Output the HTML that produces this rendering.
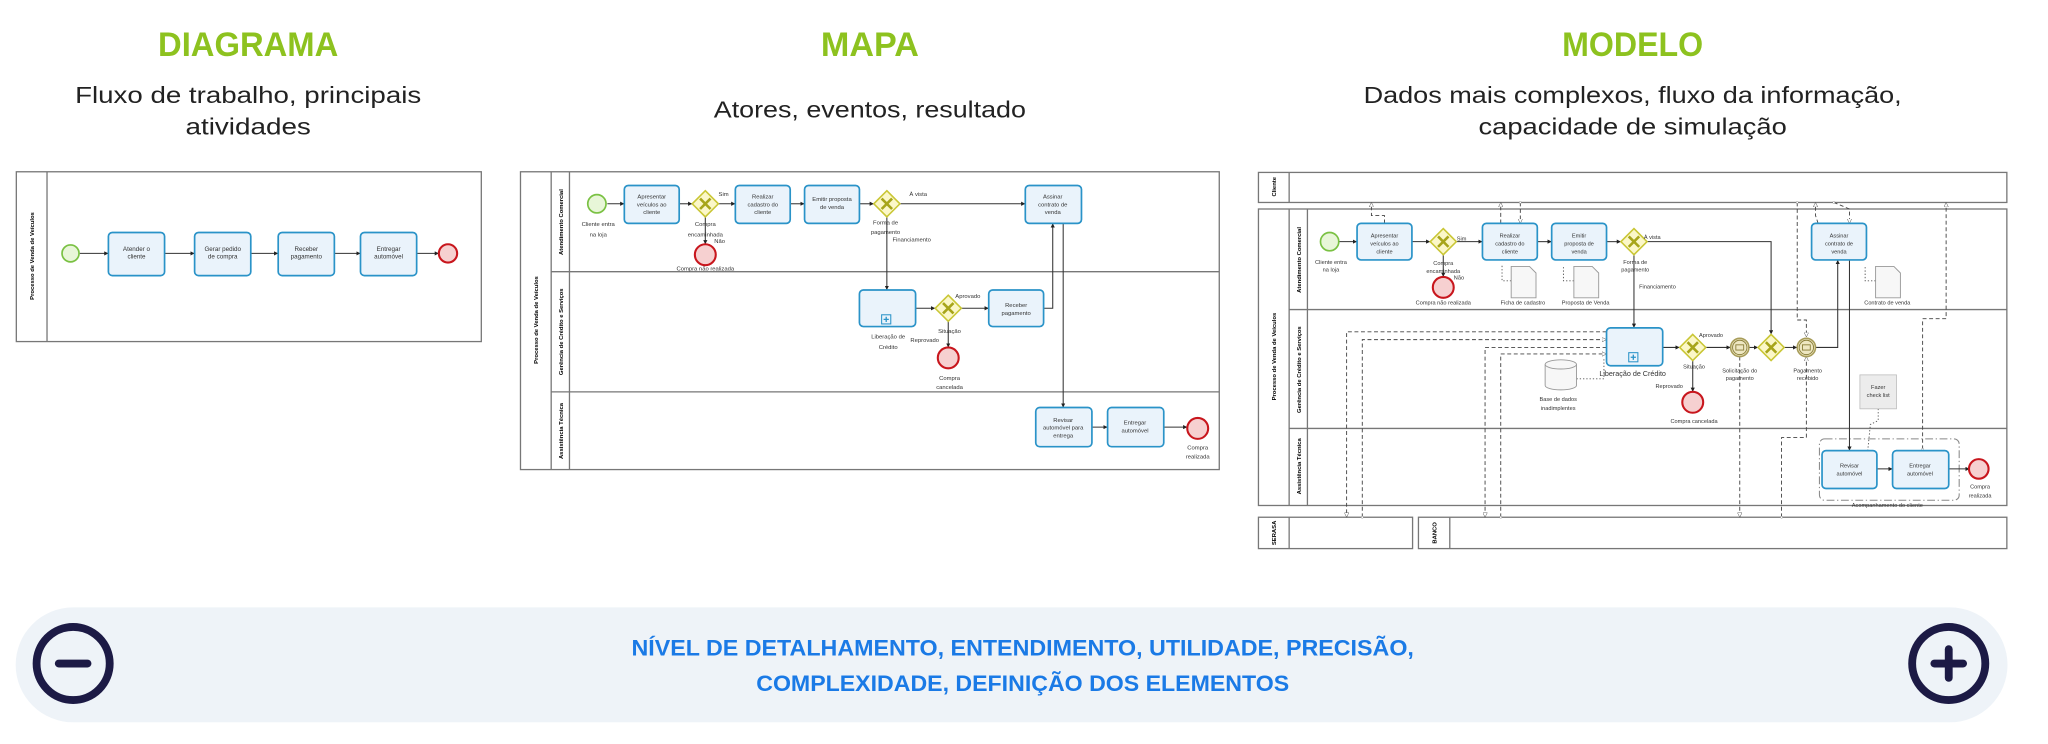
<!DOCTYPE html>
<html><head><meta charset="utf-8"><style>
html,body{margin:0;padding:0;background:#fff;}
svg{display:block;}
text{font-family:"Liberation Sans",sans-serif;}
</style></head><body>
<svg width="2048" height="744" viewBox="0 0 1568 569.6" xmlns="http://www.w3.org/2000/svg">
<defs>
<marker id="a" viewBox="0 0 10 10" refX="10" refY="5" markerWidth="4" markerHeight="4" orient="auto"><path d="M0,0L10,5L0,10z" fill="#222"/></marker>
<marker id="h" viewBox="0 0 10 10" refX="10" refY="5" markerWidth="5" markerHeight="5" orient="auto"><path d="M0,0L10,5L0,10z" fill="#fff" stroke="#444"/></marker>
<marker id="o" viewBox="0 0 10 10" refX="5" refY="5" markerWidth="3" markerHeight="3"><circle cx="5" cy="5" r="4" fill="#fff" stroke="#444"/></marker>
</defs>

<!-- Titles -->
<g font-weight="bold" fill="#8dc21f" font-size="26" text-anchor="middle">
<text x="190" y="43" textLength="138" lengthAdjust="spacingAndGlyphs">DIAGRAMA</text>
<text x="666" y="43" textLength="75" lengthAdjust="spacingAndGlyphs">MAPA</text>
<text x="1250" y="43" textLength="108" lengthAdjust="spacingAndGlyphs">MODELO</text>
</g>
<g fill="#222" font-size="18" text-anchor="middle">
<text x="190" y="79" textLength="265" lengthAdjust="spacingAndGlyphs">Fluxo de trabalho, principais</text>
<text x="190" y="103" textLength="96" lengthAdjust="spacingAndGlyphs">atividades</text>
<text x="666" y="90" textLength="239" lengthAdjust="spacingAndGlyphs">Atores, eventos, resultado</text>
<text x="1250" y="79" textLength="412" lengthAdjust="spacingAndGlyphs">Dados mais complexos, fluxo da informação,</text>
<text x="1250" y="103" textLength="236" lengthAdjust="spacingAndGlyphs">capacidade de simulação</text>
</g>

<!-- Diagram 1 -->
<g stroke="#777" fill="none" stroke-width="1">
<rect x="12.5" y="131.5" width="356" height="130" fill="#fff"/>
<line x1="36" y1="131.5" x2="36" y2="261.5"/>
</g>
<text transform="translate(26,196) rotate(-90)" font-size="4.5" font-weight="bold" text-anchor="middle">Processo de Venda de Veículos</text>
<g stroke="#333" stroke-width="0.8" marker-end="url(#a)">
<line x1="61" y1="194" x2="83" y2="194"/><line x1="126" y1="194" x2="149" y2="194"/>
<line x1="192" y1="194" x2="213" y2="194"/><line x1="256" y1="194" x2="276" y2="194"/>
<line x1="319" y1="194" x2="336" y2="194"/>
</g>
<circle cx="54" cy="194" r="6.5" fill="#e8f6d8" stroke="#7ac143" stroke-width="1.3"/>
<circle cx="343" cy="194" r="7" fill="#f6d0d0" stroke="#c8161d" stroke-width="1.6"/>
<g fill="#eaf3fb" stroke="#2a93c8" stroke-width="1.3">
<rect x="83" y="178" width="43" height="33" rx="3"/><rect x="149" y="178" width="43" height="33" rx="3"/>
<rect x="213" y="178" width="43" height="33" rx="3"/><rect x="276" y="178" width="43" height="33" rx="3"/>
</g>
<g font-size="4.8" text-anchor="middle" fill="#333">
<text x="104.5" y="192">Atender o</text><text x="104.5" y="198">cliente</text>
<text x="170.5" y="192">Gerar pedido</text><text x="170.5" y="198">de compra</text>
<text x="234.5" y="192">Receber</text><text x="234.5" y="198">pagamento</text>
<text x="297.5" y="192">Entregar</text><text x="297.5" y="198">automóvel</text>
</g>

<!-- Diagram 2 -->
<g stroke="#777" fill="#fff" stroke-width="1">
<rect x="398.5" y="131.5" width="535" height="228"/>
</g>
<g stroke="#777" stroke-width="1">
<line x1="422" y1="131.5" x2="422" y2="359.5"/><line x1="436" y1="131.5" x2="436" y2="359.5"/>
<line x1="422" y1="208" x2="933.5" y2="208"/><line x1="422" y1="300" x2="933.5" y2="300"/>
</g>
<g font-size="4.5" font-weight="bold" text-anchor="middle">
<text transform="translate(412,245) rotate(-90)">Processo de Venda de Veículos</text>
<text transform="translate(431,170) rotate(-90)">Atendimento Comercial</text>
<text transform="translate(431,254) rotate(-90)">Gerência de Crédito e Serviços</text>
<text transform="translate(431,330) rotate(-90)">Assistência Técnica</text>
</g>
<g stroke="#333" stroke-width="0.8" fill="none" marker-end="url(#a)">
<line x1="465" y1="156" x2="478" y2="156"/><line x1="520" y1="156" x2="530" y2="156"/>
<line x1="550" y1="156" x2="563" y2="156"/><line x1="605" y1="156" x2="616" y2="156"/>
<line x1="658" y1="156" x2="669" y2="156"/><line x1="689" y1="156" x2="785" y2="156"/>
<line x1="540" y1="166" x2="540" y2="187"/><line x1="679" y1="166" x2="679" y2="222"/>
<line x1="701" y1="236" x2="716" y2="236"/><line x1="736" y1="236" x2="757" y2="236"/>
<line x1="726" y1="246" x2="726" y2="266"/>
<polyline points="799,236 806,236 806,171"/>
<line x1="814" y1="171" x2="814" y2="312"/>
<line x1="836" y1="327" x2="848" y2="327"/><line x1="891" y1="327" x2="909" y2="327"/>
</g>
<circle cx="457" cy="156" r="7" fill="#e8f6d8" stroke="#7ac143" stroke-width="1.3"/>
<circle cx="540" cy="195" r="8" fill="#f6d0d0" stroke="#c8161d" stroke-width="1.6"/>
<circle cx="726" cy="274" r="8" fill="#f6d0d0" stroke="#c8161d" stroke-width="1.6"/>
<circle cx="917" cy="328" r="8" fill="#f6d0d0" stroke="#c8161d" stroke-width="1.6"/>
<g fill="#fbf7c8" stroke="#c9c635" stroke-width="1.2">
<path d="M540,146L550,156L540,166L530,156z"/><path d="M679,146L689,156L679,166L669,156z"/>
<path d="M726,226L736,236L726,246L716,236z"/>
</g>
<g stroke="#a7a51a" stroke-width="2"><path d="M536,152l8,8M544,152l-8,8M675,152l8,8M683,152l-8,8M722,232l8,8M730,232l-8,8"/></g>
<g fill="#eaf3fb" stroke="#2a93c8" stroke-width="1.3">
<rect x="478" y="142" width="42" height="29" rx="3"/><rect x="563" y="142" width="42" height="29" rx="3"/>
<rect x="616" y="142" width="42" height="29" rx="3"/><rect x="785" y="142" width="43" height="29" rx="3"/>
<rect x="658" y="222" width="43" height="28" rx="3"/><rect x="757" y="222" width="42" height="28" rx="3"/>
<rect x="793" y="312" width="43" height="30" rx="3"/><rect x="848" y="312" width="43" height="30" rx="3"/>
</g>
<rect x="675" y="241" width="7" height="7" fill="#eaf3fb" stroke="#2a93c8" stroke-width="0.8"/>
<path d="M678.5,242.5v4M676.5,244.5h4" stroke="#2a93c8" stroke-width="1"/>
<g font-size="4.5" text-anchor="middle" fill="#333">
<text x="499" y="152">Apresentar</text><text x="499" y="158">veículos ao</text><text x="499" y="164">cliente</text>
<text x="584" y="152">Realizar</text><text x="584" y="158">cadastro do</text><text x="584" y="164">cliente</text>
<text x="637" y="154">Emitir proposta</text><text x="637" y="160">de venda</text>
<text x="806" y="152">Assinar</text><text x="806" y="158">contrato de</text><text x="806" y="164">venda</text>
<text x="778" y="235">Receber</text><text x="778" y="241">pagamento</text>
<text x="814" y="323">Revisar</text><text x="814" y="329">automóvel para</text><text x="814" y="335">entrega</text>
<text x="869" y="325">Entregar</text><text x="869" y="331">automóvel</text>
<text x="458" y="173">Cliente entra</text><text x="458" y="181">na loja</text>
<text x="540" y="173">Compra</text><text x="540" y="181">encaminhada</text>
<text x="554" y="150">Sim</text><text x="551" y="186">Não</text>
<text x="540" y="207">Compra não realizada</text>
<text x="678" y="172">Forma de</text><text x="678" y="179">pagamento</text>
<text x="703" y="150">À vista</text><text x="698" y="185">Financiamento</text>
<text x="680" y="259">Liberação de</text><text x="680" y="267">Crédito</text>
<text x="741" y="228">Aprovado</text><text x="727" y="255">Situação</text><text x="708" y="262">Reprovado</text>
<text x="727" y="291">Compra</text><text x="727" y="298">cancelada</text>
<text x="917" y="344">Compra</text><text x="917" y="351">realizada</text>
</g>

<!-- Diagram 3 -->
<g stroke="#777" fill="#fff" stroke-width="1">
<rect x="963.5" y="132" width="573" height="23"/>
<rect x="963.5" y="160" width="573" height="227"/>
<rect x="963.5" y="396" width="118" height="24"/>
<rect x="1086" y="396" width="450.5" height="24"/>
</g>
<g stroke="#777" stroke-width="1">
<line x1="987" y1="132" x2="987" y2="155"/><line x1="987" y1="160" x2="987" y2="387"/>
<line x1="1001" y1="160" x2="1001" y2="387"/><line x1="987" y1="237" x2="1536.5" y2="237"/>
<line x1="987" y1="328" x2="1536.5" y2="328"/><line x1="987" y1="396" x2="987" y2="420"/>
<line x1="1110" y1="396" x2="1110" y2="420"/>
</g>
<g font-size="4.5" font-weight="bold" text-anchor="middle">
<text transform="translate(977,143) rotate(-90)">Cliente</text>
<text transform="translate(977,273) rotate(-90)">Processo de Venda de Veículos</text>
<text transform="translate(996,199) rotate(-90)">Atendimento Comercial</text>
<text transform="translate(996,283) rotate(-90)">Gerência de Crédito e Serviços</text>
<text transform="translate(996,357) rotate(-90)">Assistência Técnica</text>
<text transform="translate(977,408) rotate(-90)">SERASA</text>
<text transform="translate(1100,408) rotate(-90)">BANCO</text>
</g>
<!-- dashed message flows -->
<g stroke="#444" stroke-width="0.7" fill="none" stroke-dasharray="3,2">
<polyline points="1230,254 1031,254 1031,396" marker-end="url(#h)"/>
<polyline points="1043,396 1043,260 1230,260" marker-end="url(#h)" marker-start="url(#o)"/>
<polyline points="1230,266 1137,266 1137,396" marker-end="url(#h)"/>
<polyline points="1149,396 1149,271 1230,271" marker-end="url(#h)" marker-start="url(#o)"/>
<polyline points="1332,273 1332,396" marker-end="url(#h)"/>
<polyline points="1364,396 1364,335 1383,335 1383,273" marker-end="url(#h)" marker-start="url(#o)"/>
<polyline points="1060,171 1060,165 1050,165 1050,155" marker-end="url(#h)"/>
<polyline points="1149,171 1149,155" marker-end="url(#h)"/>
<polyline points="1164,155 1164,171" marker-end="url(#h)" marker-start="url(#o)"/>
<polyline points="1376,155 1376,245 1383,245 1383,258" marker-end="url(#h)" marker-start="url(#o)"/>
<polyline points="1392,171 1390,165 1390,155" marker-end="url(#h)"/>
<polyline points="1404,155 1416,160 1416,171" marker-end="url(#h)" marker-start="url(#o)"/>
<polyline points="1472,344 1472,244 1490,244 1490,155" marker-end="url(#h)" marker-start="url(#o)"/>
</g>
<g stroke="#555" stroke-width="0.7" fill="none" stroke-dasharray="1,1.5">
<polyline points="1157,215 1150,215 1150,203"/><polyline points="1205,215 1197,215 1197,203"/>
<polyline points="1436,215 1428,215 1428,203"/><polyline points="1207,290 1228,290 1228,275"/>
<polyline points="1438,313 1438,322 1432,325 1430,345"/>
</g>
<rect x="1393" y="336" width="107" height="47" rx="4" fill="none" stroke="#888" stroke-width="0.8" stroke-dasharray="6,2,1,2"/>
<g stroke="#333" stroke-width="0.8" fill="none" marker-end="url(#a)">
<line x1="1025" y1="185" x2="1039" y2="185"/><line x1="1081" y1="185" x2="1095" y2="185"/>
<line x1="1115" y1="185" x2="1135" y2="185"/><line x1="1177" y1="185" x2="1188" y2="185"/>
<line x1="1230" y1="185" x2="1241" y2="185"/>
<polyline points="1261,185 1356,185 1356,256"/>
<line x1="1105" y1="195" x2="1105" y2="212"/><line x1="1251" y1="195" x2="1251" y2="251"/>
<line x1="1273" y1="266" x2="1286" y2="266"/><line x1="1306" y1="266" x2="1325" y2="266"/>
<line x1="1339" y1="266" x2="1346" y2="266"/><line x1="1366" y1="266" x2="1376" y2="266"/>
<polyline points="1390,266 1407,266 1407,199"/>
<line x1="1296" y1="276" x2="1296" y2="300"/>
<line x1="1416" y1="199" x2="1416" y2="345"/>
<line x1="1437" y1="359" x2="1449" y2="359"/><line x1="1492" y1="359" x2="1508" y2="359"/>
</g>
<circle cx="1018" cy="185" r="7" fill="#e8f6d8" stroke="#7ac143" stroke-width="1.3"/>
<circle cx="1105" cy="220" r="8" fill="#f6d0d0" stroke="#c8161d" stroke-width="1.6"/>
<circle cx="1296" cy="308" r="8" fill="#f6d0d0" stroke="#c8161d" stroke-width="1.6"/>
<circle cx="1515" cy="359" r="7.5" fill="#f6d0d0" stroke="#c8161d" stroke-width="1.6"/>
<g fill="#fbf7c8" stroke="#c9c635" stroke-width="1.2">
<path d="M1105,175L1115,185L1105,195L1095,185z"/><path d="M1251,175L1261,185L1251,195L1241,185z"/>
<path d="M1296,256L1306,266L1296,276L1286,266z"/><path d="M1356,256L1366,266L1356,276L1346,266z"/>
</g>
<g stroke="#a7a51a" stroke-width="2"><path d="M1101,181l8,8M1109,181l-8,8M1247,181l8,8M1255,181l-8,8M1292,262l8,8M1300,262l-8,8M1352,262l8,8M1360,262l-8,8"/></g>
<g fill="#eee7c2" stroke="#a89d5a" stroke-width="1.2">
<circle cx="1332" cy="266" r="7"/><circle cx="1383" cy="266" r="7"/>
</g>
<g fill="none" stroke="#8a7f3a" stroke-width="0.7"><circle cx="1332" cy="266" r="5.5"/><circle cx="1383" cy="266" r="5.5"/>
<rect x="1329" y="264" width="6" height="4"/><rect x="1380" y="264" width="6" height="4"/></g>
<g fill="#eaf3fb" stroke="#2a93c8" stroke-width="1.3">
<rect x="1039" y="171" width="42" height="28" rx="3"/><rect x="1135" y="171" width="42" height="28" rx="3"/>
<rect x="1188" y="171" width="42" height="28" rx="3"/><rect x="1387" y="171" width="42" height="28" rx="3"/>
<rect x="1230" y="251" width="43" height="29" rx="3"/>
<rect x="1395" y="345" width="42" height="29" rx="3"/><rect x="1449" y="345" width="43" height="29" rx="3"/>
</g>
<rect x="1247" y="270" width="7" height="7" fill="#eaf3fb" stroke="#2a93c8" stroke-width="0.8"/>
<path d="M1250.5,271.5v4M1248.5,273.5h4" stroke="#2a93c8" stroke-width="1"/>
<g fill="#f7f7f7" stroke="#999" stroke-width="0.7">
<path d="M1157,204h14l5,5v19h-19z"/><path d="M1205,204h14l5,5v19h-19z"/><path d="M1436,204h14l5,5v19h-19z"/>
<path d="M1183,279v16a12,3.5 0 0 0 24,0v-16"/><ellipse cx="1195" cy="279" rx="12" ry="3.5"/>
</g>
<rect x="1424" y="287" width="28" height="26" fill="#ececec" stroke="#bbb" stroke-width="0.6"/>
<g font-size="4.3" text-anchor="middle" fill="#333">
<text x="1060" y="182">Apresentar</text><text x="1060" y="188">veículos ao</text><text x="1060" y="194">cliente</text>
<text x="1156" y="182">Realizar</text><text x="1156" y="188">cadastro do</text><text x="1156" y="194">cliente</text>
<text x="1209" y="182">Emitir</text><text x="1209" y="188">proposta de</text><text x="1209" y="194">venda</text>
<text x="1408" y="182">Assinar</text><text x="1408" y="188">contrato de</text><text x="1408" y="194">venda</text>
<text x="1416" y="358">Revisar</text><text x="1416" y="364">automóvel</text>
<text x="1470" y="358">Entregar</text><text x="1470" y="364">automóvel</text>
<text x="1019" y="202">Cliente entra</text><text x="1019" y="208">na loja</text>
<text x="1105" y="203">Compra</text><text x="1105" y="209">encaminhada</text>
<text x="1119" y="184">Sim</text><text x="1117" y="214">Não</text>
<text x="1105" y="233">Compra não realizada</text>
<text x="1166" y="233">Ficha de cadastro</text><text x="1214" y="233">Proposta de Venda</text>
<text x="1445" y="233">Contrato de venda</text>
<text x="1265" y="183">À vista</text>
<text x="1252" y="202">Forma de</text><text x="1252" y="208">pagamento</text>
<text x="1269" y="221">Financiamento</text>
<text x="1250" y="288" font-size="5.5">Liberação de Crédito</text>
<text x="1310" y="258">Aprovado</text><text x="1297" y="282">Situação</text>
<text x="1278" y="297">Reprovado</text><text x="1297" y="324">Compra cancelada</text>
<text x="1332" y="285">Solicitação do</text><text x="1332" y="291">pagamento</text>
<text x="1384" y="285">Pagamento</text><text x="1384" y="291">recebido</text>
<text x="1193" y="307">Base de dados</text><text x="1193" y="314">inadimplentes</text>
<text x="1438" y="298">Fazer</text><text x="1438" y="304">check list</text>
<text x="1445" y="388">Acompanhamento do cliente</text>
<text x="1516" y="374">Compra</text><text x="1516" y="381">realizada</text>
</g>

<!-- Bottom bar -->
<rect x="12" y="465" width="1525" height="88" rx="44" fill="#eef3f8"/>
<circle cx="56" cy="508" r="28" fill="none" stroke="#1c1a45" stroke-width="6"/>
<line x1="45" y1="508" x2="67" y2="508" stroke="#1c1a45" stroke-width="6" stroke-linecap="round"/>
<circle cx="1492" cy="508" r="28" fill="none" stroke="#1c1a45" stroke-width="6"/>
<line x1="1481" y1="508" x2="1503" y2="508" stroke="#1c1a45" stroke-width="6" stroke-linecap="round"/>
<line x1="1492" y1="497" x2="1492" y2="519" stroke="#1c1a45" stroke-width="6" stroke-linecap="round"/>
<g fill="#1a7ae6" font-weight="bold" font-size="17" text-anchor="middle">
<text x="783" y="502" textLength="599" lengthAdjust="spacingAndGlyphs">NÍVEL DE DETALHAMENTO, ENTENDIMENTO, UTILIDADE, PRECISÃO,</text>
<text x="783" y="529" textLength="408" lengthAdjust="spacingAndGlyphs">COMPLEXIDADE, DEFINIÇÃO DOS ELEMENTOS</text>
</g>
</svg>
</body></html>
